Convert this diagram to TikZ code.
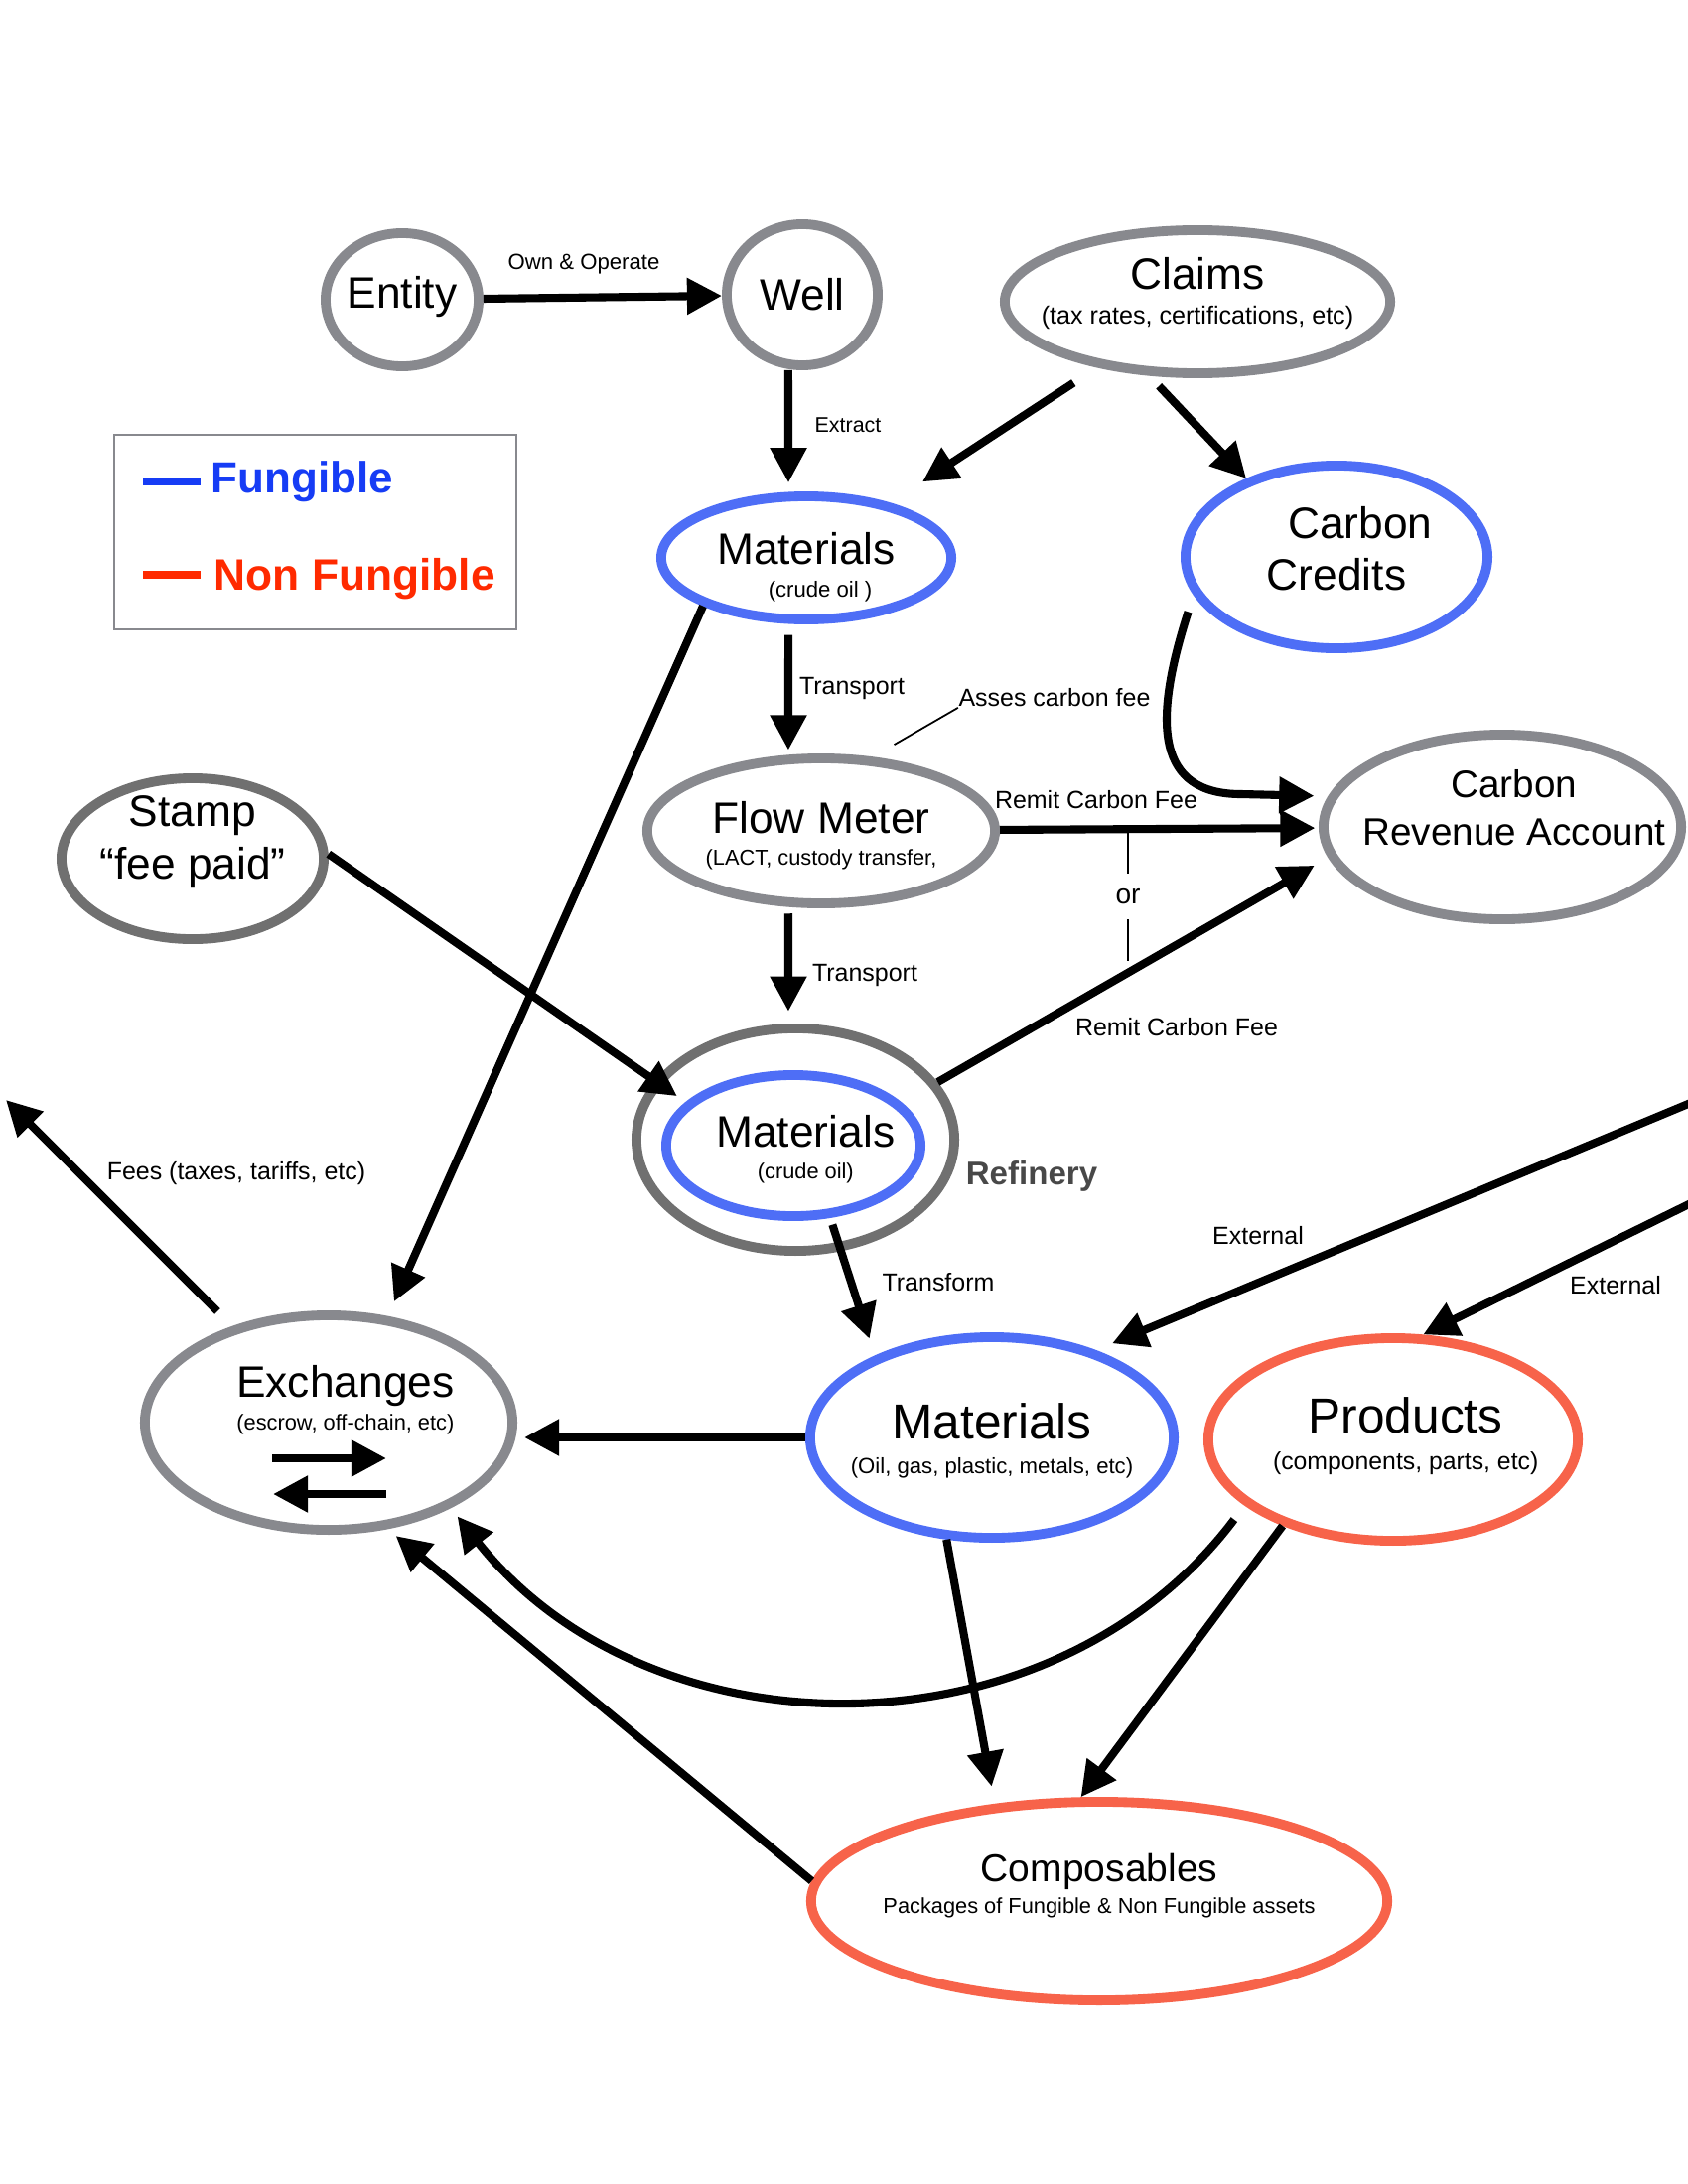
\documentclass[tikz,border=0pt]{standalone}
\usepackage{fontspec}
\setmainfont{Liberation Sans}
\usetikzlibrary{shapes.geometric,arrows.meta}
\definecolor{ngray}{RGB}{136,137,142}
\definecolor{dgray}{RGB}{112,112,112}
\definecolor{nblue}{RGB}{78,110,246}
\definecolor{nred}{RGB}{247,99,74}
\definecolor{lblue}{RGB}{22,60,245}
\definecolor{lred}{RGB}{255,42,0}
\definecolor{refgray}{RGB}{72,72,72}
\newcommand{\fsz}[2]{\fontsize{#1}{#2}\selectfont}
\newcommand{\subl}[2]{{\fsz{#1}{8}#2}}

\begin{document}
\begin{tikzpicture}[x=0.01cm, y=-0.01cm,
  ell/.style={ellipse, line width=2.8pt, inner sep=0pt},
  gnode/.style={ell, draw=ngray},
  bnode/.style={ell, draw=nblue},
  rnode/.style={ell, draw=nred},
  ttl/.style={font=\fsz{12.6}{9.5}, align=center},
  arr/.style={line width=2.3pt, -{Triangle[length=10pt,width=10pt]}},
  lbl/.style={font=\fsz{7.1}{8}, inner sep=0pt},
  lead/.style={line width=0.5pt}]
\useasboundingbox (0,0) rectangle (1700,2200);

% assets
\node[gnode, minimum width=1.54cm, minimum height=1.34cm,
  label={[name=entity-t, ttl, yshift=0.7pt]center:Entity}] (entity) at (405,302) {};
\node[gnode, minimum width=1.52cm, minimum height=1.42cm,
  label={[name=well-t, ttl]center:Well}] (well) at (808,297) {};
\node[gnode, minimum width=3.88cm, minimum height=1.44cm,
  label={[name=claims-t, ttl, font=\fsz{12.6}{10}, yshift=2.3pt]center:{Claims\\\subl{7.15}{(tax rates, certifications, etc)}}}] (claims) at (1206,304) {};
\node[bnode, minimum width=2.92cm, minimum height=1.24cm,
  label={[name=mat1-t, ttl, yshift=-2.7pt]center:{Materials\\\hspace*{8pt}\subl{6.3}{(crude oil )}}}] (mat1) at (812,562) {};
\node[bnode, minimum width=3.04cm, minimum height=1.84cm,
  label={[name=cc-t, ttl, yshift=2.3pt]center:{\hspace*{13.6pt}Carbon\\[5.3pt]Credits}}] (cc) at (1346,561) {};
\node[gnode, minimum width=3.50cm, minimum height=1.46cm,
  label={[name=flow-t, ttl, font=\fsz{12.6}{8.9}, yshift=-1.3pt]center:{Flow Meter\\\subl{6.2}{(LACT, custody transfer,}}}] (flow) at (827,837) {};
\node[gnode, minimum width=3.60cm, minimum height=1.86cm,
  label={[name=cra-t, ttl, font=\fsz{11}{13.4}, xshift=3.4pt, yshift=5.5pt]center:{Carbon\\Revenue Account}}] (cra) at (1513,833) {};
\node[gnode, draw=dgray, minimum width=2.64cm, minimum height=1.62cm,
  label={[name=stamp-t, ttl, yshift=4.8pt]center:{Stamp\\[2.5pt]“fee paid”}}] (stamp) at (194,865) {};
\node[ell, draw=dgray, minimum width=3.20cm, minimum height=2.24cm] (ref) at (801,1148) {};
\node[bnode, minimum width=2.56cm, minimum height=1.42cm,
  label={[name=mat2-t, ttl, font=\fsz{12.6}{9.1}, xshift=3.5pt, yshift=-1.1pt]center:{Materials\\\subl{6.2}{(crude oil)}}}] (mat2) at (799,1154) {};
\node[gnode, minimum width=3.70cm, minimum height=2.16cm,
  label={[name=exch-t, ttl, font=\fsz{12.6}{9.4}, xshift=4.8pt, yshift=6.4pt]center:{Exchanges\\\subl{6.2}{(escrow, off-chain, etc)}}}] (exch) at (331,1433) {};
\node[bnode, minimum width=3.66cm, minimum height=2.02cm,
  label={[name=mat3-t, ttl, font=\fsz{14.1}{10}, yshift=-1pt]center:{Materials\\\subl{6.3}{(Oil, gas, plastic, metals, etc)}}}] (mat3) at (999,1448) {};
\node[rnode, minimum width=3.72cm, minimum height=2.04cm,
  label={[name=prod-t, ttl, font=\fsz{14.1}{10.3}, xshift=3.6pt, yshift=1pt]center:{Products\\\subl{7.05}{(components, parts, etc)}}}] (prod) at (1403,1450) {};
\node[rnode, minimum width=5.80cm, minimum height=2.00cm,
  label={[name=comp-t, ttl, font=\fsz{11.1}{9}, yshift=4.3pt]center:{Composables\\\subl{6.2}{Packages of Fungible \& Non Fungible assets}}}] (comp) at (1107,1915) {};

% legend
\node[draw=ngray, line width=0.7pt, minimum width=4.05cm, minimum height=1.96cm, inner sep=0pt] (legend) at (317.5,536) {};
\draw[lblue, line width=2.5pt] (144,485) -- (202,485);
\draw[lred, line width=2.5pt] (144,579) -- (202,579);
\node[anchor=west, inner sep=0pt, font=\bfseries\fsz{12.5}{14}, text=lblue] (fung) at (212,485) {Fungible};
\node[anchor=west, inner sep=0pt, font=\bfseries\fsz{12.6}{14}, text=lred] (nonfung) at (215,583) {Non Fungible};

% edge labels
\node[lbl, font=\fsz{6.3}{8}] (own) at (588,266) {Own \& Operate};
\node[lbl, font=\fsz{6.1}{8}] (extract) at (854,428) {Extract};
\node[lbl] (tr1) at (858,693) {Transport};
\node[lbl] (fee) at (1062,703) {Asses carbon fee};
\node[lbl] (remit1) at (1104,806) {Remit Carbon Fee};
\node[lbl, font=\fsz{8}{9}, minimum height=0.45cm] (or) at (1136,903) {or};
\node[lbl] (tr2) at (871,982) {Transport};
\node[lbl] (remit2) at (1185,1035) {Remit Carbon Fee};
\node[font=\bfseries\fsz{9.4}{11}, text=refgray, inner sep=0pt] (refl) at (1039,1185) {Refinery};
\node[lbl] (fees) at (238,1182) {Fees (taxes, tariffs, etc)};
\node[lbl] (transform) at (945,1292) {Transform};
\node[lbl] (ext1) at (1267,1245) {External};
\node[lbl] (ext2) at (1627,1295) {External};

\coordinate (fees-end) at (6,1108);
\coordinate (ext-a) at (1705,1110);
\coordinate (ext-b) at (1705,1211);
\coordinate (or-end) at (1136,968);

% flows
\draw[arr] (entity) -- (well);
\draw[arr, shorten >=2.5pt] ([xshift=-4pt]well.south) -- ([xshift=-5.1pt]mat1.north);
\draw[arr, shorten <=8pt, shorten >=11pt] (claims) -- (mat1);
\draw[arr, shorten <=4pt] (claims.237) -- (cc.139);
\draw[arr, shorten <=3pt, shorten >=1pt] ([xshift=-5.1pt]mat1.south) -- ([xshift=-9.4pt]flow.north);
\draw[lead, shorten <=7pt] (flow.55) -- (fee.south west);
\draw[arr, shorten <=5pt, shorten >=4pt] (cc.195) .. controls (1160,730) and (1165,800) .. (1250,800) -- (cra.170);
\draw[arr, shorten >=1pt] (flow) -- (cra);
\draw[lead] (or.north) -- (or.north |- flow.east);
\draw[lead] (or.south) -- (or-end);
\draw[arr, shorten <=1.5pt, shorten >=3.5pt] ([xshift=-9.4pt]flow.south) -- ([xshift=-2pt]ref.north);
\draw[arr, shorten >=4.5pt] (ref.22) -- (cra.190);
\draw[arr, shorten >=3pt] (stamp.2) -- (mat2.158);
\draw[arr, shorten >=4.5pt] (mat1.205) -- (exch.61);
\draw[arr, shorten <=6pt] (exch.135) -- (fees-end);
\draw[arr, shorten <=2pt, shorten >=5pt] (mat2.297) -- (mat3.145);
\draw[arr, shorten >=5pt] (ext-a) -- (mat3.40);
\draw[arr] (ext-b) -- (prod.74);
\draw[arr, shorten >=2pt] (mat3.west) -- (mat3.west -| exch.east);
\draw[arr, shorten <=5pt, shorten >=3pt] (prod.204) .. controls (1060,1774) and (656,1774) .. (exch.325);
\draw[arr, shorten >=5pt] (mat3.246) -- (comp.137);
\draw[arr] (prod.218) -- (comp.100);
\draw[arr, shorten >=3pt] (comp.176) -- (exch.299);
\draw[arr] ([shift={(-57,36)}]exch.center) -- ([shift={(58,36)}]exch.center);
\draw[arr] ([shift={(58,72)}]exch.center) -- ([shift={(-56,72)}]exch.center);
\end{tikzpicture}
\end{document}
